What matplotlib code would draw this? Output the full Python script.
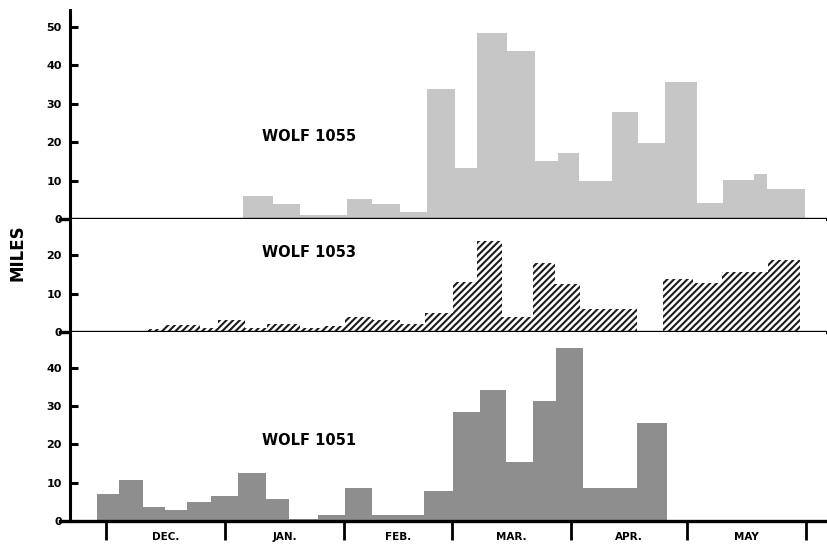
import matplotlib
matplotlib.use("Agg")
import matplotlib.pyplot as plt
import numpy as np

# ---- data (days counted from Dec 1) ----
months = ["DEC.", "JAN.", "FEB.", "MAR.", "APR.", "MAY"]
month_days = [31, 31, 28, 31, 30, 31]

# WOLF 1055 (top)
w1055_start = [35.5, 43.5, 50.4, 62.6, 69.2, 76.4, 83.5, 90.7, 96.5, 104.3,
               111.5, 117.6, 123.0, 131.5, 138.4, 145.3, 153.7, 160.5, 168.5, 171.8]
w1055_end = [43.5, 50.4, 62.6, 69.2, 76.4, 83.5, 90.7, 96.5, 104.3, 111.5,
             117.6, 123.0, 131.5, 138.4, 145.3, 153.7, 160.5, 168.5, 171.8, 181.8]
w1055_miles = [5.9, 4.0, 1.0, 5.3, 4.0, 1.8, 33.8, 13.2, 48.3, 43.8,
               15.1, 17.1, 9.9, 27.8, 19.9, 35.6, 4.1, 10.2, 11.7, 7.7]

# WOLF 1053 (middle)
w1053_start = [10.1, 14.8, 24.4, 29.1, 36.1, 41.9, 50.4, 56.4, 62.1, 69.4, 76.4,
               82.9, 90.3, 96.4, 103.0, 111.1, 116.7, 123.2, 144.9, 152.7, 160.1, 172.2]
w1053_end = [14.8, 24.4, 29.1, 36.1, 41.9, 50.4, 56.4, 62.1, 69.4, 76.4, 82.9,
             90.3, 96.4, 103.0, 111.1, 116.7, 123.2, 138.1, 152.7, 160.1, 172.2, 180.5]
w1053_miles = [0.8, 1.8, 1.0, 3.0, 1.0, 2.0, 1.0, 1.5, 4.0, 3.0, 2.2,
               5.0, 12.9, 23.8, 3.9, 17.9, 12.6, 5.9, 13.9, 12.8, 15.7, 18.7]

# WOLF 1051 (bottom)
w1051_start = [-2.4, 3.4, 9.7, 15.3, 21.1, 27.2, 34.4, 41.5, 47.7, 55.1, 62.1,
               69.2, 82.6, 90.3, 97.2, 103.9, 111.0, 117.0, 123.9, 131.0, 138.1]
w1051_end = [3.4, 9.7, 15.3, 21.1, 27.2, 34.4, 41.5, 47.7, 55.1, 62.1, 69.2,
             82.6, 90.3, 97.2, 103.9, 111.0, 117.0, 123.9, 131.0, 138.1, 145.8]
w1051_miles = [7.0, 10.7, 3.7, 2.9, 4.9, 6.6, 12.6, 5.7, 0.4, 1.5, 8.7,
               1.5, 7.7, 28.4, 34.2, 15.3, 31.3, 45.1, 8.7, 8.5, 25.5]

plt.rcParams['hatch.linewidth'] = 1.5

W, H = 827, 546
fig = plt.figure(figsize=(W / 100, H / 100), dpi=100)

xmin, xmax = -9.36, 187.2
left, width = 70 / W, 756 / W

def fy(px):
    return 1 - px / H

panels = [
    dict(name="WOLF 1055", s=w1055_start, e=w1055_end, v=w1055_miles,
         top=10, zero=219, ymax=54.4, ticks=[0, 10, 20, 30, 40, 50],
         fc="#c6c6c6", hatch=None, ec="#c6c6c6", label_y=21.4),
    dict(name="WOLF 1053", s=w1053_start, e=w1053_end, v=w1053_miles,
         top=219, zero=332, ymax=29.4, ticks=[0, 10, 20],
         fc="white", hatch="/////", ec="#1c1c1c", label_y=20.8),
    dict(name="WOLF 1051", s=w1051_start, e=w1051_end, v=w1051_miles,
         top=332, zero=521, ymax=49.3, ticks=[0, 10, 20, 30, 40],
         fc="#8e8e8e", hatch=None, ec="#8e8e8e", label_y=20.9),
]

axes = []
for p in panels:
    ax = fig.add_axes([left, fy(p["zero"]), width, (p["zero"] - p["top"]) / H])
    s = np.array(p["s"]); e = np.array(p["e"])
    if p["hatch"]:
        ax.bar(s, p["v"], width=e - s, align="edge", facecolor=p["fc"],
               edgecolor=p["ec"], hatch=p["hatch"], linewidth=0, zorder=2)
    else:
        ax.bar(s, p["v"], width=e - s, align="edge", color=p["fc"],
               linewidth=0, zorder=2)
    ax.set_xlim(xmin, xmax)
    ax.set_ylim(0, p["ymax"])
    for sp in ["top", "right", "bottom"]:
        ax.spines[sp].set_visible(False)
    ax.spines["left"].set_linewidth(2.2)
    ax.axhline(0, xmin=-0.013, xmax=1.0, color="black", lw=2.4,
               clip_on=False, zorder=3)
    ax.set_yticks(p["ticks"])
    ax.set_yticklabels([str(t) for t in p["ticks"]], fontsize=8, fontweight="bold")
    ax.tick_params(axis="y", direction="in", length=6, width=2.2, pad=6)
    ax.text(40.6, p["label_y"], p["name"], fontsize=10.5, fontweight="bold",
            va="center", ha="left")
    ax.set_xticks([])
    axes.append(ax)

# month axis on the bottom panel
axb = axes[-1]
bounds = np.concatenate([[0], np.cumsum(month_days)])
mids = (bounds[:-1] + bounds[1:]) / 2
axb.set_xticks(bounds)
axb.set_xticklabels([])
axb.set_xticks(mids, minor=True)
axb.set_xticklabels(months, minor=True, fontsize=7.5, fontweight="bold")
axb.tick_params(axis="x", which="major", direction="out", length=14, width=2.0)
axb.tick_params(axis="x", which="minor", length=0, pad=8)

fig.text(18 / W, fy(253), "MILES", rotation=90, fontsize=12, fontweight="bold",
         ha="center", va="center")

fig.savefig("out.png", dpi=100)
